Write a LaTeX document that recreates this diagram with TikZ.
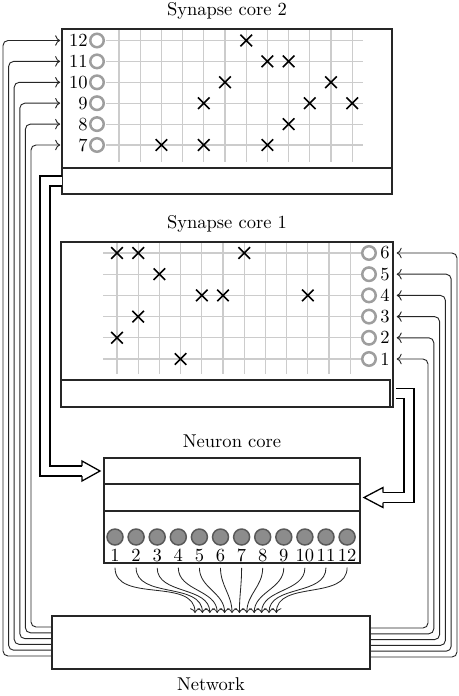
\documentclass[tikz,border=0pt]{standalone}
\usetikzlibrary{arrows.meta,shapes.misc}
\newcommand\upx{0.54pt}
\begin{document}
\begin{tikzpicture}[x=0.54pt,y=-0.54pt,
  box/.style={draw=black!85, line width=0.6pt, inner sep=0pt, outer sep=0pt, rectangle},
  lbl/.style={inner sep=0pt, font=\normalsize},
  num/.style={inner sep=0pt},
  gridl/.style={draw=black!20, line width=0.55pt},
  syn/.style={circle, draw=black!38, line width=1.35pt, minimum size=13.5*\upx, inner sep=0pt},
  neu/.style={circle, draw=black!65, fill=black!45, line width=0.8pt, minimum size=16*\upx, inner sep=0pt},
  xm/.style={cross out, draw=black, line width=0.85pt, minimum size=10*\upx, inner sep=0pt},
  fb/.style={draw=black!85, line width=0.5pt, rounded corners=2.7pt, ->, shorten >=1pt},
  nconn/.style={draw=black!85, line width=0.45pt, ->},
  dbl/.style={draw=black, line width=0.7pt, double=white, double distance=4.7pt},
  head/.style={draw=black, fill=white, line width=0.7pt, line join=miter}
]
\useasboundingbox (0,0) rectangle (459,696);

% ---------------- Synapse core 2 ----------------
\node[lbl, anchor=base] (t2) at (227,16) {Synapse core 2};
\foreach \c in {0,...,11} \draw[gridl] ({119+21.2*\c},29) -- ({119+21.2*\c},162);
\foreach \r in {0,...,5} \draw[gridl] (106,{145-20.9*\r}) -- (363,{145-20.9*\r});
\node[box, minimum width=330*\upx, minimum height=139*\upx] (box2) at (227,98.5) {};
\node[box, minimum width=330*\upx, minimum height=26*\upx] (bar2) at (227,181) {};
\foreach \k in {7,...,12} {
  \pgfmathsetmacro\ry{145-20.9*(\k-7)}
  \node[syn] (sa\k) at (97,\ry) {};
  \node[num, anchor=east] (la\k) at (88,\ry) {\k};
}
\foreach \col/\row [count=\n] in {7/12,8/11,9/11,6/10,11/10,5/9,10/9,12/9,9/8,3/7,5/7,8/7}
  \node[xm] (xa\n) at ({119+21.2*(\col-1)},{145-20.9*(\row-7)}) {};

% ---------------- Synapse core 1 ----------------
\node[lbl, anchor=base] (t1) at (227,228) {Synapse core 1};
\foreach \c in {0,...,11} \draw[gridl] ({117+21.2*\c},242) -- ({117+21.2*\c},374);
\foreach \r in {0,...,5} \draw[gridl] (103,{359-21.2*\r}) -- (362,{359-21.2*\r});
\node[box, minimum width=332*\upx, minimum height=165*\upx] (box1) at (227,324.5) {};
\node[box, minimum width=329*\upx, minimum height=27*\upx] (bar1) at (225.5,393.5) {};
\foreach \k in {1,...,6} {
  \pgfmathsetmacro\ry{359-21.2*(\k-1)}
  \node[syn] (sb\k) at (369,\ry) {};
  \node[num, anchor=west] (lb\k) at (380,\ry) {\k};
}
\foreach \col/\row [count=\n] in {1/6,2/6,7/6,3/5,5/4,6/4,10/4,2/3,1/2,4/1}
  \node[xm] (xb\n) at ({117+21.2*(\col-1)},{359-21.2*(\row-1)}) {};

% ---------------- Neuron core ----------------
\node[lbl, anchor=base] (tn) at (232,447) {Neuron core};
\node[box, minimum width=256*\upx, minimum height=105*\upx] (nc) at (232,510.5) {};
\node[box, minimum width=256*\upx, minimum height=26*\upx] (nA) at (232,471) {};
\node[box, minimum width=256*\upx, minimum height=27*\upx] (nB) at (232,497.5) {};
\foreach \i in {1,...,12} {
  \pgfmathsetmacro\nx{115+21.1*(\i-1)}
  \node[neu] (n\i) at (\nx,537) {};
  \node[num] (m\i) at (\nx,555.5) {\i};
}

% ---------------- Network ----------------
\node[box, minimum width=318*\upx, minimum height=53*\upx] (net) at (211,642.5) {};
\node[lbl, anchor=base] (tnet) at (211,690) {Network};

% neuron outputs into network
\foreach \i in {1,...,12} {
  \coordinate (tp\i) at ({195+7.4*(\i-1)},613);
  \draw[nconn] ([yshift=-3pt]m\i.south) to[out=-90,in=90] (tp\i);
}

% network -> synapse core 2 (left side)
\foreach \k/\ny/\vx in {7/627/31,8/632.8/25.4,9/638.6/19.8,10/644.4/14.2,11/650.2/8.6,12/656/3} {
  \pgfmathsetmacro\ry{145-20.9*(\k-7)}
  \coordinate (pl\k) at (52,\ny);
  \draw[fb] (pl\k) -| (\vx,\ry) -- (box2.west |- sa\k);
}

% network -> synapse core 1 (right side)
\foreach \k/\ny/\vx in {1/628/428,2/633.8/433.8,3/639.6/439.6,4/645.4/445.4,5/651.2/451.2,6/657/457} {
  \pgfmathsetmacro\ry{359-21.2*(\k-1)}
  \coordinate (pr\k) at (370,\ny);
  \draw[fb, shorten >=2pt] (pr\k) -| (\vx,\ry) -- (box1.east |- sb\k);
}

% synapse core 2 -> neuron core (double arrow, left)
\coordinate (lh) at ([xshift=-22*\upx]nA.west);
\draw[dbl] (bar2.west) -- ++(-17,0) |- (lh);
\filldraw[head] (lh) ++(0,-5) -- ++(0,-5) -- ++(18,10) -- ++(-18,10) -- ++(0,-5);

% synapse core 1 -> neuron core (double arrow, right)
\coordinate (rh) at ([xshift=23*\upx]nB.east);
\draw[dbl] (box1.east |- bar1.east) ++(3,0) -- ++(13,0) |- (rh);
\filldraw[head] (rh) ++(0,-5) -- ++(0,-5) -- ++(-19,10) -- ++(19,10) -- ++(0,-5);
\end{tikzpicture}
\end{document}
